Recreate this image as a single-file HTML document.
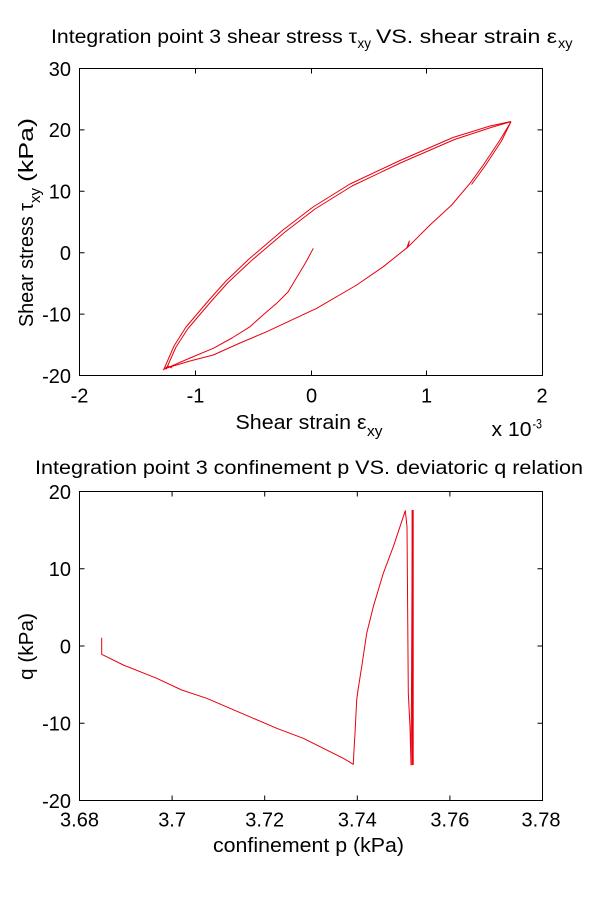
<!DOCTYPE html>
<html>
<head>
<meta charset="utf-8">
<style>
html,body{margin:0;padding:0;background:#fff;}
svg{display:block;}
text{font-family:"Liberation Sans", Arial, sans-serif;fill:#000;}
</style>
</head>
<body>
<svg width="600" height="900" viewBox="0 0 600 900" xmlns="http://www.w3.org/2000/svg">
<rect x="0" y="0" width="600" height="900" fill="#fff"/>

<!-- ================= TOP PLOT ================= -->
<text x="51" y="43" font-size="19" textLength="306" lengthAdjust="spacingAndGlyphs">Integration point 3 shear stress τ</text>
<text x="357.5" y="48" font-size="14" textLength="13.5" lengthAdjust="spacingAndGlyphs">xy</text>
<text x="376" y="43" font-size="19" textLength="181" lengthAdjust="spacingAndGlyphs">VS. shear strain ε</text>
<text x="558" y="48" font-size="14" textLength="14.5" lengthAdjust="spacingAndGlyphs">xy</text>

<rect x="79.5" y="68.5" width="463" height="307" fill="none" stroke="#000" stroke-width="1"/>
<g stroke="#000" stroke-width="1">
  <path d="M195.5 375.5v-5M311.5 375.5v-5M426.5 375.5v-5M195.5 68.5v5M311.5 68.5v5M426.5 68.5v5"/>
  <path d="M79.5 129.9h5M79.5 191.3h5M79.5 252.7h5M79.5 314.1h5M542.5 129.9h-5M542.5 191.3h-5M542.5 252.7h-5M542.5 314.1h-5"/>
</g>
<g font-size="20" text-anchor="end">
  <text x="71" y="76">30</text>
  <text x="71" y="137">20</text>
  <text x="71" y="198.5">10</text>
  <text x="71" y="260">0</text>
  <text x="71" y="321.5">-10</text>
  <text x="71" y="383">-20</text>
</g>
<g font-size="20" text-anchor="middle">
  <text x="79.5" y="402.5">-2</text>
  <text x="195.5" y="402.5">-1</text>
  <text x="311.5" y="402.5">0</text>
  <text x="426.5" y="402.5">1</text>
  <text x="542" y="402.5">2</text>
</g>
<text x="235.5" y="429" font-size="20" textLength="131" lengthAdjust="spacingAndGlyphs">Shear strain ε</text>
<text x="367" y="436" font-size="15" textLength="15.5" lengthAdjust="spacingAndGlyphs">xy</text>
<text x="491.5" y="436" font-size="20" textLength="40" lengthAdjust="spacingAndGlyphs">x 10</text>
<text x="532.5" y="428.5" font-size="14" textLength="9.5" lengthAdjust="spacingAndGlyphs">-3</text>
<g transform="translate(33,327) rotate(-90)">
  <text x="0" y="0" font-size="20" textLength="124" lengthAdjust="spacingAndGlyphs">Shear stress τ</text>
  <text x="124" y="7" font-size="15" textLength="15" lengthAdjust="spacingAndGlyphs">xy</text>
  <text x="145" y="0" font-size="20" textLength="64" lengthAdjust="spacingAndGlyphs">(kPa)</text>
</g>

<g fill="none" stroke="#e8000f" stroke-width="1" stroke-linejoin="round">
  <polyline points="313.3,248.3 306,262 297,277 288,292 276.7,303.3 263,315 250,326.7 232,338 213.3,348.3 190,358 170,366.7 164,369"/>
  <polyline points="164,369 174,346 186,327 209,300 226,281 249,259 283,230 313,207 350,184 400,160.5 453,137.5 490,126 511,121.5"/>
  <polyline points="166,369.5 176,347 188,328.5 211,301.5 228,282.5 251,261 285,232 315,209 352,186 401.5,162.5 454.5,139.5 491,127.5 511,121.7"/>
  <polyline points="511,121.7 500,140 483.3,165 470,183.3 451.7,205 430,225 408.3,246.7 383.3,266.7 356.7,285 316.7,308.3 266.7,331.7 240,343 213.3,355 190,361 170,367 164,369"/>
  <polyline points="511,121.7 501.5,141 485,166 471.5,184.5"/>
  <polyline points="406.7,248.3 409.3,241 408.3,246"/>
  <polyline points="163,370 168,366 172,368"/>
</g>

<!-- ================= BOTTOM PLOT ================= -->
<text x="35" y="474" font-size="19" textLength="548" lengthAdjust="spacingAndGlyphs">Integration point 3 confinement p VS. deviatoric q relation</text>

<rect x="79.5" y="491.5" width="463" height="309" fill="none" stroke="#000" stroke-width="1"/>
<g stroke="#000" stroke-width="1">
  <path d="M172.1 800.5v-5M264.7 800.5v-5M357.3 800.5v-5M449.9 800.5v-5M172.1 491.5v5M264.7 491.5v5M357.3 491.5v5M449.9 491.5v5"/>
  <path d="M79.5 568.75h5M79.5 646h5M79.5 723.25h5M542.5 568.75h-5M542.5 646h-5M542.5 723.25h-5"/>
</g>
<g font-size="20" text-anchor="end">
  <text x="71" y="499">20</text>
  <text x="71" y="576">10</text>
  <text x="71" y="653.5">0</text>
  <text x="71" y="730.5">-10</text>
  <text x="71" y="808">-20</text>
</g>
<g font-size="20" text-anchor="middle">
  <text x="79.5" y="826.5">3.68</text>
  <text x="172.1" y="826.5">3.7</text>
  <text x="264.7" y="826.5">3.72</text>
  <text x="357.3" y="826.5">3.74</text>
  <text x="449.9" y="826.5">3.76</text>
  <text x="541" y="826.5">3.78</text>
</g>
<text x="213" y="852" font-size="20" textLength="191" lengthAdjust="spacingAndGlyphs">confinement p (kPa)</text>
<g transform="translate(33,680) rotate(-90)">
  <text x="0" y="0" font-size="20" textLength="67" lengthAdjust="spacingAndGlyphs">q (kPa)</text>
</g>

<g fill="none" stroke="#e8000f" stroke-width="1" stroke-linejoin="round">
  <polyline points="101.7,637.7 101.7,654.3 123.3,665 156.7,678.3 181.7,690 206.7,698.3 230,708.3 253.3,718.3 276.7,728.3 303.3,738.3 323.3,748.3 343.3,758.3 353.3,764.3 354,750 355,733.3 356.7,700 358,690 361.7,666.7 366.7,633.3 373.3,606.7 383.3,573.3 393.3,546.7 405.3,510.7 407,526.7 408.3,693.3 410,726.7 411,765 411.5,690 411.8,630 412.3,510"/>
  <line x1="412.7" y1="510" x2="412.7" y2="765" stroke-width="2"/>
</g>
</svg>
</body>
</html>
